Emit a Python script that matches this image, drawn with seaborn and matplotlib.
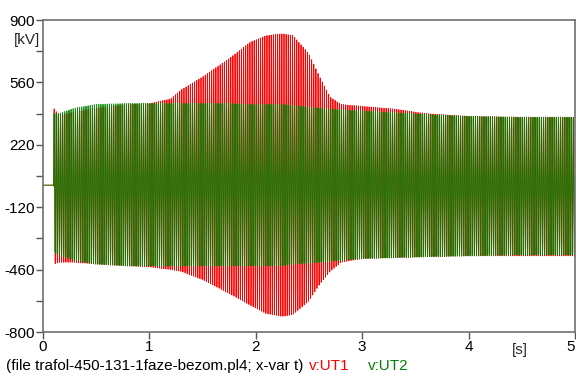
import numpy as np
import pandas as pd
import matplotlib
matplotlib.use("Agg")
import matplotlib.pyplot as plt
import seaborn as sns

# ---- data (envelopes of the 50 Hz voltages, kV) ----
t_knots = [0.10, 0.15, 0.30, 0.50, 0.80, 1.00, 1.20, 1.30, 1.50, 1.75, 1.95, 2.10, 2.25, 2.35,
           2.50, 2.60, 2.70, 2.80, 3.00, 3.30, 3.60, 4.00, 4.50, 5.00]
ut1_upper = [420, 380, 400, 420, 440, 445, 470, 520, 590, 690, 780, 815, 825, 815,
             715, 590, 480, 440, 430, 415, 390, 375, 370, 370]
ut1_lower = [-430, -420, -420, -430, -440, -445, -460, -470, -515, -590, -655, -700, -715, -705,
             -630, -540, -470, -420, -400, -395, -390, -385, -385, -385]
ut2_upper = [390, 390, 420, 440, 445, 445, 445, 445, 445, 445, 440, 440, 440, 435,
             425, 420, 415, 410, 405, 395, 385, 375, 370, 370]
ut2_lower = [-360, -380, -410, -430, -440, -440, -440, -440, -440, -440, -440, -440, -440, -430,
             -425, -420, -415, -410, -400, -395, -390, -385, -380, -380]
t_switch = 0.10          # s, energisation instant
freq = 50.0              # Hz, system frequency
y_ticks = [-800, -460, -120, 220, 560, 900]
y_minor = [-630, -290, 50, 390, 730]
x_ticks = [0, 1, 2, 3, 4, 5]

# ---- build waveforms ----
t = np.arange(0.0, 5.0, 0.0005)
on = t >= t_switch
def wave(up, lo, phase):
    u = np.interp(t, t_knots, up)
    l = np.interp(t, t_knots, lo)
    c = (u + l) / 2
    a = (u - l) / 2
    v = c + a * np.sin(2 * np.pi * freq * t + phase)
    return np.where(on, v, 0.0)

v1 = wave(ut1_upper, ut1_lower, 0.0)
v2 = wave(ut2_upper, ut2_lower, 0.3)
df1 = pd.DataFrame({"t": t, "v": v1})
df2 = pd.DataFrame({"t": t, "v": v2})

sns.set_style("white")
plt.rcParams["font.family"] = ["Liberation Sans", "DejaVu Sans"]

fig = plt.figure(figsize=(5.76, 3.74), dpi=100)
ax = fig.add_axes([43 / 576, 1 - 332 / 374, 532 / 576, 312 / 374])

sns.lineplot(data=df1, x="t", y="v", ax=ax, color="#ff0000", lw=0.6, estimator=None, sort=False)
sns.lineplot(data=df2, x="t", y="v", ax=ax, color="#008000", lw=0.7, alpha=0.85, estimator=None, sort=False)

ax.set_xlim(0, 5)
ax.set_ylim(-800, 900)
ax.set_xticks(x_ticks)
ax.set_xticklabels([str(x) for x in x_ticks])
ax.set_yticks(y_ticks)
ax.set_yticklabels([str(y) for y in y_ticks])
ax.set_yticks(y_minor, minor=True)
ax.tick_params(axis="both", which="both", direction="out", length=5, width=1,
               color="#555555", labelsize=11, labelcolor="black", pad=1,
               left=True, bottom=True)
for lab in ax.get_xticklabels():
    if lab.get_text() == "5":
        lab.set_horizontalalignment("right")
        lab.set_x(5.0)
ax.set_xlabel("")
ax.set_ylabel("")
for s in ax.spines.values():
    s.set_color("#707070")
    s.set_linewidth(1.2)
    s.set_visible(True)

fig.text(27 / 576, 1 - 40 / 374, "[kV]", fontsize=11, ha="center", va="center")
fig.text(520 / 576, 1 - 350 / 374, "[s]", fontsize=11, ha="center", va="center")
fig.text(6 / 576, 1 - 366 / 374, "(file trafol-450-131-1faze-bezom.pl4; x-var t)",
         fontsize=11, ha="left", va="center", color="black")
fig.text(309 / 576, 1 - 366 / 374, "v:UT1", fontsize=11, ha="left", va="center", color="#ff0000")
fig.text(368 / 576, 1 - 366 / 374, "v:UT2", fontsize=11, ha="left", va="center", color="#008000")

fig.savefig("out.png", dpi=100)
